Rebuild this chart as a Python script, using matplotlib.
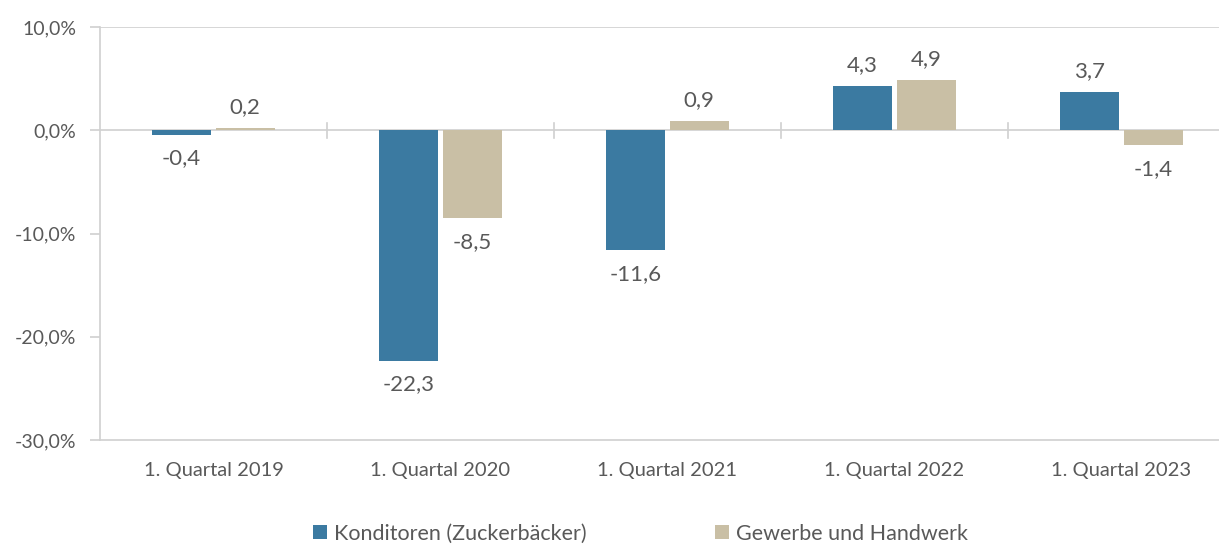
import matplotlib.pyplot as plt
import numpy as np

# data
quartale = ['1. Quartal 2019', '1. Quartal 2020', '1. Quartal 2021',
            '1. Quartal 2022', '1. Quartal 2023']
konditoren = [-0.4, -22.3, -11.6, 4.3, 3.7]
gewerbe = [0.2, -8.5, 0.9, 4.9, -1.4]

blau = '#3B7AA1'
beige = '#C9BFA5'
grau_text = '#595959'
grau_linie = '#D0D0D0'

plt.rcParams['font.family'] = ['Lato', 'DejaVu Sans']

fig = plt.figure(figsize=(12.19, 5.44), dpi=100)
# plot area runs a little past the right edge (reference is cropped)
ax = fig.add_axes([0.082, 0.191, 0.931, 0.759])

x = np.arange(len(quartale))
w = 0.26
off = 0.14
b1 = ax.bar(x - off, konditoren, w, color=blau, label='Konditoren (Zuckerbäcker)', zorder=3)
b2 = ax.bar(x + off, gewerbe, w, color=beige, label='Gewerbe und Handwerk', zorder=3)

# data labels: above for positive, below for negative
for bars, vals in ((b1, konditoren), (b2, gewerbe)):
    for rect, v in zip(bars, vals):
        lbl = ('%.1f' % v).replace('.', ',')
        xc = rect.get_x() + rect.get_width() / 2
        if v >= 0:
            ax.annotate(lbl, (xc, v), xytext=(0, 8), textcoords='offset points',
                        ha='center', va='bottom', fontsize=16, color=grau_text)
        else:
            ax.annotate(lbl, (xc, v), xytext=(0, -10), textcoords='offset points',
                        ha='center', va='top', fontsize=16, color=grau_text)

ax.set_xlim(-0.5, len(quartale) - 0.5)
ax.set_ylim(-30, 10)
ax.set_yticks([10, 0, -10, -20, -30])
ax.set_yticklabels([('%.1f%%' % t).replace('.', ',') for t in [10, 0, -10, -20, -30]])
ax.tick_params(axis='y', colors=grau_linie, labelcolor=grau_text, labelsize=14,
               length=7, width=1.2, pad=10)

# category labels at the bottom
ax.set_xticks(x)
ax.set_xticklabels(quartale)
ax.tick_params(axis='x', length=0, labelcolor=grau_text, labelsize=14.5, pad=16)

# zero line with tick marks between categories
ax.axhline(0, color=grau_linie, lw=1.2, zorder=2)
for xb in np.arange(0.5, len(quartale) - 0.5):
    ax.plot([xb, xb], [-0.7, 0.7], color=grau_linie, lw=1.2, zorder=2, clip_on=False)
ax.axhline(10, color=grau_linie, lw=1.2, zorder=1)

for s in ['top', 'right']:
    ax.spines[s].set_visible(False)
ax.spines['left'].set_color(grau_linie)
ax.spines['left'].set_linewidth(1.2)
ax.spines['bottom'].set_color(grau_linie)
ax.spines['bottom'].set_linewidth(1.2)

leg = fig.legend(loc='lower center', bbox_to_anchor=(0.5255, -0.035), ncol=2, frameon=False,
                 fontsize=15.5, handlelength=0.65, handleheight=0.65, handletextpad=0.3,
                 columnspacing=6.0)
for t in leg.get_texts():
    t.set_color(grau_text)

fig.savefig('out.png', dpi=100)
